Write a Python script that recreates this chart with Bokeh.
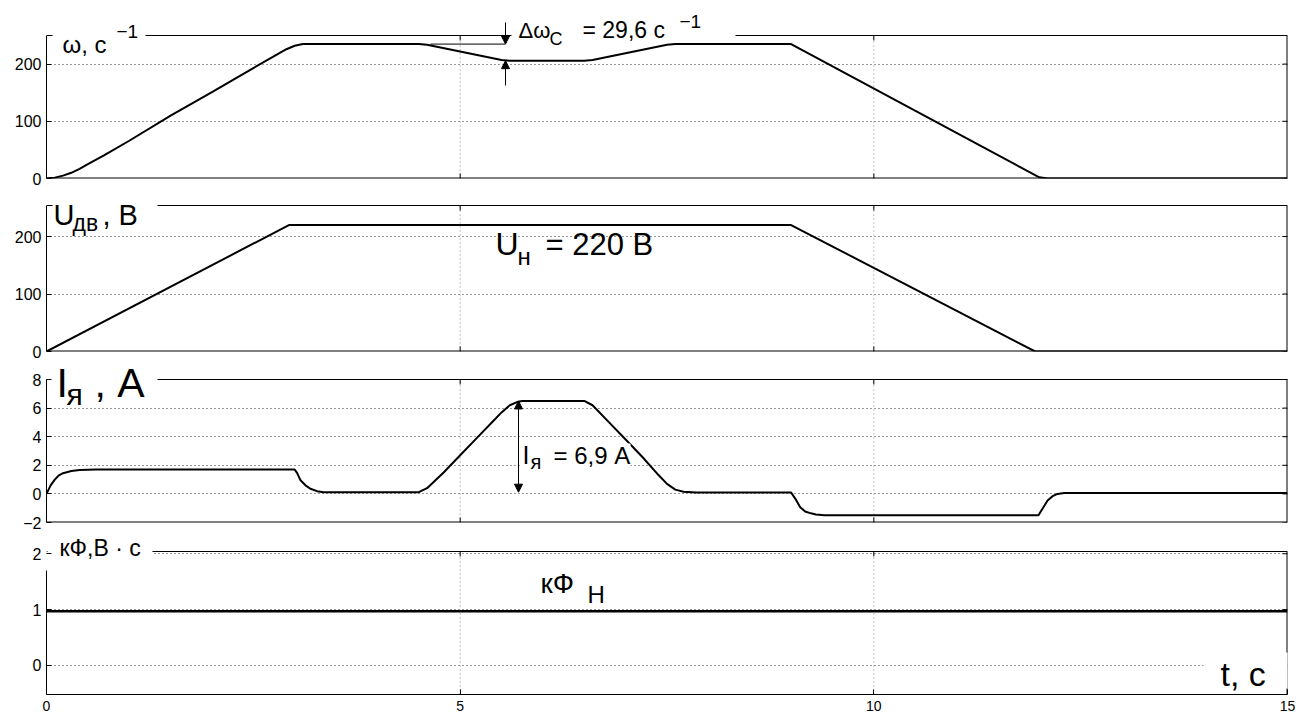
from bokeh.plotting import figure
from bokeh.models import Range1d, LinearAxis, Label, Arrow, NormalHead, FixedTicker
from bokeh.layouts import column
from bokeh.embed import file_html
from bokeh.resources import INLINE

FONT = "Liberation Sans"

# ---- data ----
x_ticks = [0, 5, 10, 15]
x_grid = [5, 10]

t_omega = [0.0, 0.1, 0.2, 0.3, 0.4, 0.5, 0.7, 1.0, 1.5, 2.0, 2.5, 2.9, 3.0, 3.1, 3.2, 4.5, 4.6,
           5.5, 5.6, 6.5, 6.6, 7.5, 7.6, 9.0, 12.0, 12.1, 15.0]
omega = [0, 1.5, 5, 10, 17, 25, 41, 66, 110, 151, 193, 226, 232, 235, 235, 235, 234,
         207, 206, 206, 207, 234, 235, 235, 2, 0, 0]
omega_ticks = [0, 100, 200]

t_u = [0.0, 2.93, 9.0, 11.95, 15.0]
u_dv = [0, 220, 220, 0, 0]
u_ticks = [0, 100, 200]

t_i = [0.0, 0.05, 0.1, 0.15, 0.2, 0.3, 0.4, 0.6, 3.0, 3.03, 3.07, 3.13, 3.19, 3.27, 3.35, 4.5, 4.6,
       4.8, 5.0, 5.2, 5.4, 5.5, 5.6, 5.7, 5.75, 6.5, 6.6, 6.8, 7.0, 7.2, 7.4, 7.5, 7.6, 7.7, 7.85,
       9.0, 9.05, 9.11, 9.17, 9.24, 9.3, 9.4, 9.6, 11.99, 12.05, 12.1, 12.16, 12.22, 12.3, 12.5, 15.0]
i_ya = [0, 0.6, 1.0, 1.3, 1.45, 1.6, 1.67, 1.7, 1.7, 1.45, 0.95, 0.6, 0.36, 0.19, 0.12, 0.12, 0.4,
        1.5, 2.7, 3.9, 5.1, 5.7, 6.2, 6.45, 6.5, 6.5, 6.2, 5.0, 3.8, 2.6, 1.3, 0.7, 0.3, 0.15, 0.1,
        0.1, -0.33, -0.93, -1.23, -1.36, -1.44, -1.49, -1.5, -1.5, -0.93, -0.46, -0.16, 0.0, 0.06, 0.07, 0.07]
i_ticks = [-2, 0, 2, 4, 6, 8]

t_kf = [0.0, 15.0]
k_phi = [0.97, 0.97]
kf_ticks = [0, 1, 2]

# ---- layout geometry (page pixels) ----
W = 1299
LEFT, RIGHT = 46, 12
PX_PER_T = (W - LEFT - RIGHT) / 15.0
TXT_SHIFT = 0.35  # em correction for baseline


class Panel:
    def __init__(self, fig_top, height, frame_top, box_top, box_bot, bottom_border, y0, y1, yticks, last=False):
        self.fig_top = fig_top
        self.box_top, self.box_bot = box_top, box_bot
        self.y0, self.y1 = y0, y1
        self.k = (y1 - y0) / (box_bot - box_top)
        ytop = y1 + (box_top - frame_top) * self.k
        p = figure(width=W, height=height, x_range=Range1d(0, 15), y_range=Range1d(y0, ytop),
                   output_backend="svg", toolbar_location=None,
                   min_border_left=LEFT, min_border_right=RIGHT,
                   min_border_top=frame_top - fig_top, min_border_bottom=bottom_border,
                   x_axis_location=None, y_axis_location=None)
        p.outline_line_color = None
        p.background_fill_color = "white"
        p.border_fill_color = "white"
        p.xgrid.visible = False
        p.ygrid.ticker = FixedTicker(ticks=yticks)
        p.ygrid.grid_line_color = "#333333"
        p.ygrid.grid_line_dash = "1 3"
        self.p = p
        self.yticks = yticks
        self.last = last
        # vertical dotted grid only inside the axes box
        p.segment(x0=x_grid, y0=[y0] * len(x_grid), x1=x_grid, y1=[y1] * len(x_grid),
                  line_color="#8a8a8a", line_dash="1 3", line_width=1)

    def v(self, py):
        return self.y0 + (self.box_bot - py) * self.k

    def finish_frame(self, left_top=None):
        p = self.p
        ya = LinearAxis(ticker=FixedTicker(ticks=self.yticks), major_tick_in=5, major_tick_out=0,
                        minor_tick_in=0, minor_tick_out=0, axis_line_color="black",
                        major_tick_line_color="black", major_label_text_font=FONT,
                        major_label_text_font_size="16px", major_label_text_color="black",
                        major_label_standoff=5,
                        bounds=(self.y0, self.y1 if left_top is None else left_top))
        p.add_layout(ya, "left")
        dx = 5 / PX_PER_T
        dy = 5 * self.k
        p.segment(x0=[0], y0=[self.y1], x1=[15], y1=[self.y1], line_color="black", line_width=1)
        p.segment(x0=[15], y0=[self.y0], x1=[15], y1=[self.y1], line_color="black", line_width=2)
        p.segment(x0=[15 - dx] * len(self.yticks), y0=self.yticks, x1=[15] * len(self.yticks),
                  y1=self.yticks, line_color="black", line_width=1)
        p.segment(x0=x_grid, y0=[self.y1] * 2, x1=x_grid, y1=[self.y1 - dy] * 2,
                  line_color="black", line_width=1)
        if self.last:
            xa = LinearAxis(ticker=FixedTicker(ticks=x_ticks), major_tick_in=5, major_tick_out=0,
                            minor_tick_in=0, minor_tick_out=0, axis_line_color="black",
                            major_tick_line_color="black", major_label_text_font=FONT,
                            major_label_text_font_size="14px", major_label_text_color="black",
                            major_label_standoff=6)
            p.add_layout(xa, "below")
        else:
            p.segment(x0=[0], y0=[self.y0], x1=[15], y1=[self.y0], line_color="black", line_width=2)
            p.segment(x0=x_grid, y0=[self.y0] * 2, x1=x_grid, y1=[self.y0 + dy] * 2,
                      line_color="black", line_width=1)

    def box(self, x0, x1, ytop, ybot):
        self.p.quad(left=[(x0 - LEFT) / PX_PER_T], right=[(x1 - LEFT) / PX_PER_T],
                    top=[self.v(ytop)], bottom=[self.v(ybot)],
                    fill_color="white", line_color=None)

    def txt(self, px, py, s, size):
        self.p.add_layout(Label(x=(px - LEFT) / PX_PER_T, y=self.v(py - TXT_SHIFT * size), text=s,
                                text_font=FONT, text_font_size=f"{size}px", text_color="black",
                                text_baseline="alphabetic", text_align="left"))

    def arrow(self, px, py0, v1, v0=None, both=False):
        head = lambda: NormalHead(size=8, fill_color="black", line_color="black", line_width=1)
        xs = (px - LEFT) / PX_PER_T
        self.p.add_layout(Arrow(x_start=xs, y_start=self.v(py0) if v0 is None else v0,
                                x_end=xs, y_end=v1, end=head(), start=head() if both else None,
                                line_color="black", line_width=1))


# ---- panel 1: omega ----
P1 = Panel(0, 192, 4, 35, 178, 14, 0, 250, omega_ticks)
p1 = P1.p
p1.line(t_omega, omega, line_color="black", line_width=2)
P1.finish_frame()
p1.line([(430 - LEFT) / PX_PER_T, (505 - LEFT) / PX_PER_T], [omega[13], omega[13]],
        line_color="black", line_width=1)
P1.box(52, 145, 24, 60)
P1.box(511, 735, 4, 40)
P1.arrow(505, 22, omega[13])
P1.arrow(505, 85, omega[18])
P1.txt(62, 52, "ω, с", 24)
P1.txt(116, 38, "−1", 19)
P1.txt(518, 38, "Δω", 22)
P1.txt(549, 45, "C", 18)
P1.txt(582, 38, "= 29,6 с", 23)
P1.txt(679, 28, "−1", 19)

# ---- panel 2: U ----
P2 = Panel(192, 168, 196, 205, 351, 9, 0, 254, u_ticks)
p2 = P2.p
p2.line(t_u, u_dv, line_color="black", line_width=2)
P2.finish_frame()
P2.box(52, 157, 196, 233)
P2.txt(53, 225, "U", 29)
P2.txt(72, 231, "дв", 23)
P2.txt(102, 225, ", В", 29)
P2.txt(495, 255, "U", 32)
P2.txt(517, 264, "н", 24)
P2.txt(545, 255, "= 220 В", 31)

# ---- panel 3: I ----
P3 = Panel(360, 172, 360, 379, 522, 10, -2, 8, i_ticks)
p3 = P3.p
p3.line(t_i, i_ya, line_color="black", line_width=2)
P3.finish_frame()
P3.box(48, 157, 360, 406)
P3.box(521, 630, 443, 471)
P3.arrow(518, 0, 6.5, v0=0.12, both=True)
P3.txt(56, 397, "I", 41)
P3.txt(66, 404, "я", 30)
P3.txt(94, 397, ", А", 41)
P3.txt(522, 463, "I", 25)
P3.txt(530, 468, "я", 20)
P3.txt(553, 463, "= 6,9 А", 24)

# ---- panel 4: k*Phi ----
P4 = Panel(532, 184, 532, 551, 694, 22, -0.52, 2.04, kf_ticks, last=True)
p4 = P4.p
p4.line(t_kf, k_phi, line_color="black", line_width=2.5)
P4.finish_frame(left_top=P4.v(570))
P4.box(47, 152, 532, 570)
P4.box(1203, 1290, 652, 688)
P4.txt(59, 556, "кФ,В · с", 23)
P4.txt(540, 593, "кФ", 28)
P4.txt(587, 602, "Н", 24)
P4.txt(1220, 685, "t, с", 34)

layout = column(p1, p2, p3, p4)
open("out.html", "w").write(file_html(layout, INLINE))
